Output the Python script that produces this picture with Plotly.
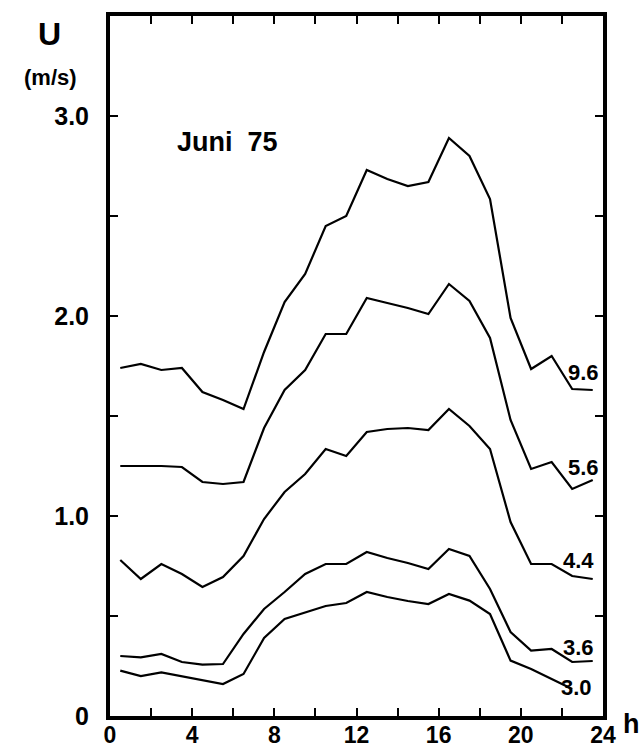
import plotly.graph_objects as go

hours = [0.5, 1.5, 2.5, 3.5, 4.5, 5.5, 6.5, 7.5, 8.5, 9.5, 10.5, 11.5,
         12.5, 13.5, 14.5, 15.5, 16.5, 17.5, 18.5, 19.5, 20.5, 21.5, 22.5, 23.5]

u_96 = [1.74, 1.76, 1.73, 1.74, 1.62, 1.58, 1.535, 1.82, 2.07, 2.21, 2.45, 2.50,
        2.73, 2.685, 2.65, 2.67, 2.89, 2.80, 2.585, 1.99, 1.735, 1.80, 1.635, 1.63]
u_56 = [1.25, 1.25, 1.25, 1.245, 1.17, 1.16, 1.17, 1.44, 1.63, 1.73, 1.91, 1.91,
        2.09, 2.065, 2.04, 2.01, 2.16, 2.075, 1.89, 1.48, 1.235, 1.27, 1.135, 1.18]
u_44 = [0.78, 0.685, 0.76, 0.71, 0.645, 0.695, 0.80, 0.985, 1.12, 1.21, 1.335, 1.30,
        1.42, 1.435, 1.44, 1.43, 1.535, 1.45, 1.335, 0.97, 0.76, 0.76, 0.70, 0.685]
u_36 = [0.30, 0.293, 0.31, 0.27, 0.257, 0.26, 0.41, 0.535, 0.62, 0.71, 0.76, 0.76,
        0.82, 0.79, 0.765, 0.735, 0.835, 0.80, 0.635, 0.42, 0.327, 0.335, 0.27, 0.275]
u_30 = [0.227, 0.20, 0.218, 0.198, 0.177, 0.16, 0.21, 0.39, 0.485, 0.518, 0.55, 0.565,
        0.62, 0.595, 0.575, 0.56, 0.61, 0.577, 0.51, 0.277, 0.235, 0.185, 0.135, None]

series = [("9.6", u_96), ("5.6", u_56), ("4.4", u_44), ("3.6", u_36), ("3.0", u_30)]
label_pos = {"9.6": (23.05, 1.72), "5.6": (23.05, 1.245), "4.4": (22.8, 0.78),
             "3.6": (22.8, 0.345), "3.0": (22.7, 0.145)}

x_tickvals = list(range(0, 25, 2))
x_ticktext = [str(v) if v % 4 == 0 else "" for v in x_tickvals]
y_tickvals = [0, 0.5, 1.0, 1.5, 2.0, 2.5, 3.0]
y_ticktext = ["0", "", "1.0", "", "2.0", "", "3.0"]

FONT = "Liberation Sans"

W, H = 643, 751
L, R, T, B = 110, 40, 16, 35
pw, ph = W - L - R, H - T - B


def px_to_paper(px, py):
    return (px - L) / pw, (H - B - py) / ph


fig = go.Figure()
for name, vals in series:
    fig.add_trace(go.Scatter(x=hours, y=vals, mode="lines", name=name,
                             line=dict(color="black", width=2.2),
                             connectgaps=False, showlegend=False))

for name, (lx, ly) in label_pos.items():
    fig.add_annotation(x=lx, y=ly, xref="x", yref="y", text=name, showarrow=False,
                       xanchor="center", yanchor="middle",
                       font=dict(family=FONT, size=22, color="black", weight="bold"))

fig.add_annotation(x=5.7, y=2.87, xref="x", yref="y", text="Juni  75", showarrow=False,
                   xanchor="center", yanchor="middle",
                   font=dict(family=FONT, size=27, color="black", weight="bold"))

for text, (px, py), size in [("U", (49, 34), 32), ("(m/s)", (50, 77), 22), ("h", (631, 724), 27)]:
    ax, ay = px_to_paper(px, py)
    fig.add_annotation(x=ax, y=ay, xref="paper", yref="paper", text=text, showarrow=False,
                       xanchor="center", yanchor="middle",
                       font=dict(family=FONT, size=size, color="black", weight="bold"))

fig.update_layout(
    width=W, height=H,
    margin=dict(l=L, r=R, t=T, b=B, autoexpand=False),
    plot_bgcolor="white", paper_bgcolor="white",
    showlegend=False,
)
fig.update_xaxes(range=[0, 24], tickvals=x_tickvals, ticktext=x_ticktext,
                 ticks="inside", ticklen=8, tickwidth=2, tickcolor="black",
                 showline=True, linewidth=4, linecolor="black", mirror="ticks",
                 showgrid=False, zeroline=False, ticklabelstandoff=-5, automargin=False,
                 tickfont=dict(family=FONT, size=23, color="black", weight="bold"))
fig.update_yaxes(range=[0, 3.5], tickvals=y_tickvals, ticktext=y_ticktext,
                 ticks="inside", ticklen=8, tickwidth=2, tickcolor="black",
                 showline=True, linewidth=4, linecolor="black", mirror="ticks",
                 showgrid=False, zeroline=False, ticklabelstandoff=12, automargin=False,
                 tickfont=dict(family=FONT, size=25, color="black", weight="bold"))

fig.write_html("out.html",
               config={"displayModeBar": False},
               post_script="document.body.style.margin='0';document.body.style.overflow='hidden';")
